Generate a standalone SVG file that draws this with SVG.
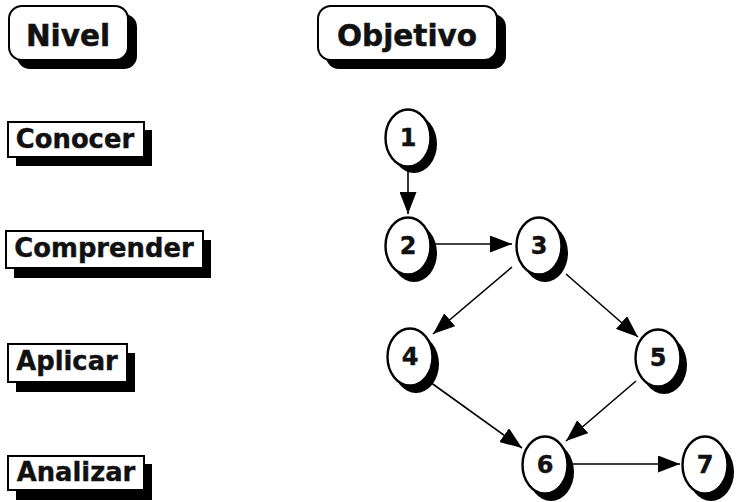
<svg xmlns="http://www.w3.org/2000/svg" width="739" height="502" viewBox="0 0 739 502">
  <defs>
    <style>
      .box { fill: #fff; stroke: #000; stroke-width: 2; }
      .node { fill: #fff; stroke: #000; stroke-width: 2.4; }
      .shadow { fill: #000; }
      .head { font-family: "DejaVu Sans", Verdana, sans-serif; font-weight: bold; font-size: 29.5px; text-anchor: middle; fill: #111; stroke: #111; stroke-width: 0.5; }
      .lvl { font-family: "DejaVu Sans", Verdana, sans-serif; font-weight: bold; font-size: 25.8px; text-anchor: middle; fill: #111; stroke: #111; stroke-width: 0.4; }
      .num { font-family: "DejaVu Sans", Verdana, sans-serif; font-weight: bold; font-size: 24px; text-anchor: middle; fill: #111; stroke: #111; stroke-width: 0.4; }
      .edge { stroke: #000; stroke-width: 1.6; fill: none; marker-end: url(#arrow); }
    </style>
    <marker id="arrow" viewBox="0 0 22 17" refX="22" refY="8.5" markerWidth="22" markerHeight="17" markerUnits="userSpaceOnUse" orient="auto">
      <path d="M0,0 L22,8.5 L0,17 Z" fill="#000"/>
    </marker>
  </defs>

  <!-- column headers -->
  <g id="header-nivel">
    <rect class="shadow" x="17" y="14" width="120" height="55" rx="13"/>
    <rect class="box" x="9" y="6" width="119" height="54" rx="13"/>
    <text class="head" x="68" y="46">Nivel</text>
  </g>
  <g id="header-objetivo">
    <rect class="shadow" x="326" y="14" width="180" height="55" rx="13"/>
    <rect class="box" x="318" y="6" width="179" height="54" rx="13"/>
    <text class="head" x="407" y="46">Objetivo</text>
  </g>

  <!-- level labels -->
  <g id="level-conocer">
    <rect class="shadow" x="16" y="130" width="136" height="36"/>
    <rect class="box" x="8" y="122" width="136" height="35"/>
    <text class="lvl" x="75" y="148">Conocer</text>
  </g>
  <g id="level-comprender">
    <rect class="shadow" x="14" y="240" width="197" height="38"/>
    <rect class="box" x="6" y="231" width="197" height="37"/>
    <text class="lvl" x="104" y="257">Comprender</text>
  </g>
  <g id="level-aplicar">
    <rect class="shadow" x="16" y="353" width="119" height="39"/>
    <rect class="box" x="8" y="344" width="119" height="38"/>
    <text class="lvl" x="67" y="370">Aplicar</text>
  </g>
  <g id="level-analizar">
    <rect class="shadow" x="16" y="464" width="136" height="36"/>
    <rect class="box" x="8" y="456" width="136" height="34"/>
    <text class="lvl" x="76" y="481">Analizar</text>
  </g>

  <!-- connectors -->
  <g id="connectors">
    <line class="edge" x1="408" y1="168" x2="408" y2="214"/>
    <line class="edge" x1="435" y1="244" x2="512" y2="244"/>
    <line class="edge" x1="512" y1="267" x2="433" y2="334"/>
    <line class="edge" x1="566" y1="274" x2="638" y2="337"/>
    <line class="edge" x1="430" y1="382" x2="522" y2="448"/>
    <line class="edge" x1="636" y1="381" x2="566" y2="441"/>
    <line class="edge" x1="573" y1="464" x2="680" y2="464"/>
  </g>

  <!-- objective nodes -->
  <g id="node-1">
    <ellipse class="shadow" cx="414" cy="144" rx="23" ry="29"/>
    <ellipse class="node" cx="408" cy="138" rx="22.5" ry="28.5"/>
    <text class="num" x="408" y="146">1</text>
  </g>
  <g id="node-2">
    <ellipse class="shadow" cx="414" cy="253" rx="23" ry="29"/>
    <ellipse class="node" cx="408" cy="246" rx="22.5" ry="28.5"/>
    <text class="num" x="408" y="254">2</text>
  </g>
  <g id="node-3">
    <ellipse class="shadow" cx="545" cy="253" rx="23" ry="29"/>
    <ellipse class="node" cx="539" cy="246" rx="22.5" ry="28.5"/>
    <text class="num" x="539" y="254">3</text>
  </g>
  <g id="node-4">
    <ellipse class="shadow" cx="416" cy="364" rx="23" ry="29"/>
    <ellipse class="node" cx="410" cy="357" rx="22.5" ry="28.5"/>
    <text class="num" x="410" y="365">4</text>
  </g>
  <g id="node-5">
    <ellipse class="shadow" cx="664" cy="365" rx="23" ry="29"/>
    <ellipse class="node" cx="658" cy="358" rx="22.5" ry="28.5"/>
    <text class="num" x="658" y="366">5</text>
  </g>
  <g id="node-6">
    <ellipse class="shadow" cx="551" cy="472" rx="23" ry="29"/>
    <ellipse class="node" cx="545" cy="465" rx="22.5" ry="28.5"/>
    <text class="num" x="545" y="473">6</text>
  </g>
  <g id="node-7">
    <ellipse class="shadow" cx="711" cy="472" rx="23" ry="29"/>
    <ellipse class="node" cx="705" cy="465" rx="22.5" ry="28.5"/>
    <text class="num" x="705" y="473">7</text>
  </g>
</svg>
